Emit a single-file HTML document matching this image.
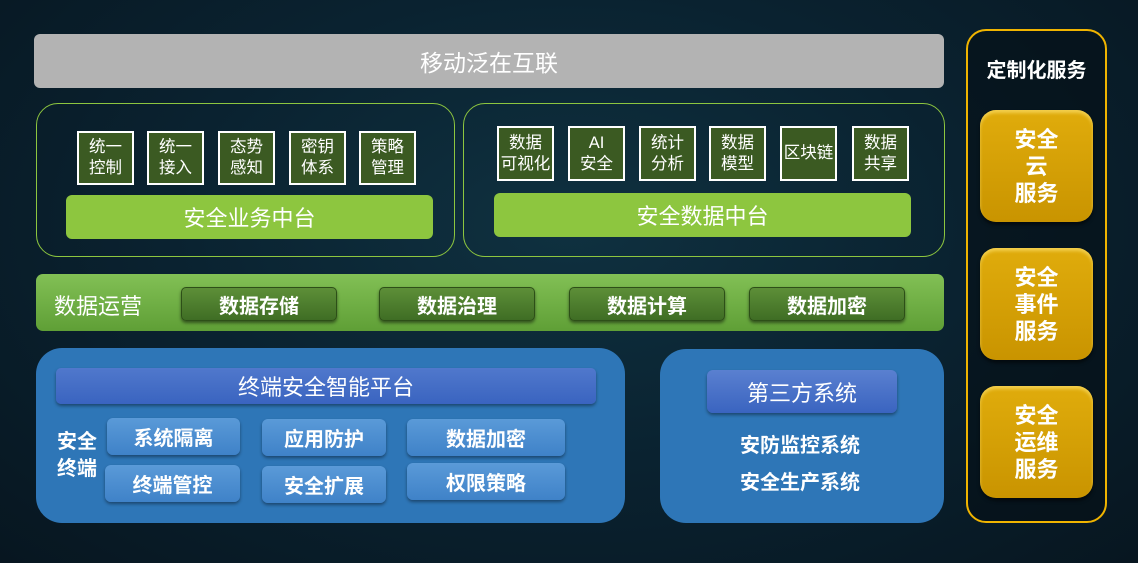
<!DOCTYPE html>
<html><head><meta charset="utf-8"><style>
*{margin:0;padding:0;box-sizing:border-box}
body{width:1138px;height:563px;overflow:hidden;position:relative;background:radial-gradient(ellipse at 50% 40%,#0f3140 0%,#0a2230 50%,#071620 100%);font-family:"Liberation Sans","Noto Sans CJK SC",sans-serif;color:#fff}
.a{position:absolute;display:flex;align-items:center;justify-content:center;text-align:center}
.sm{background:#3b5a22;border:2px solid #fff;font-size:16.5px;line-height:21px;width:57px;height:54px}
.gb{background:#8dc63f;border-radius:6px;font-size:22px}
.db{background:linear-gradient(#5d8f38,#3f6d24);border-radius:5px;font-weight:bold;font-size:20px;box-shadow:0 2px 3px rgba(0,0,0,.5);border:1px solid #2d4f18}
.bb{background:linear-gradient(#5a9ad8,#3f82c8);border-radius:6px;font-weight:bold;font-size:20px;box-shadow:0 2px 3px rgba(0,0,0,.4)}
.gold{background:linear-gradient(#e0ac0c,#c99400);border-radius:16px;font-weight:bold;font-size:22px;line-height:27px;box-shadow:inset 0 3px 3px rgba(255,230,120,.6),0 3px 3px rgba(0,0,0,.5);left:980px;width:113px;height:112px}
</style></head><body>
<div class="a" style="left:34px;top:34px;width:910px;height:54px;background:#b3b3b3;border-radius:6px;font-size:23px">移动泛在互联</div>

<div class="a" style="left:36px;top:103px;width:419px;height:154px;border:1.5px solid #8dc63f;border-radius:22px"></div>
<div class="a sm" style="left:77px;top:131px">统一<br>控制</div>
<div class="a sm" style="left:147px;top:131px">统一<br>接入</div>
<div class="a sm" style="left:218px;top:131px">态势<br>感知</div>
<div class="a sm" style="left:289px;top:131px">密钥<br>体系</div>
<div class="a sm" style="left:359px;top:131px">策略<br>管理</div>
<div class="a gb" style="left:66px;top:195px;width:367px;height:44px">安全业务中台</div>

<div class="a" style="left:463px;top:103px;width:482px;height:154px;border:1.5px solid #8dc63f;border-radius:22px"></div>
<div class="a sm" style="left:497px;top:126px;height:55px">数据<br>可视化</div>
<div class="a sm" style="left:568px;top:126px;height:55px">AI<br>安全</div>
<div class="a sm" style="left:639px;top:126px;height:55px">统计<br>分析</div>
<div class="a sm" style="left:709px;top:126px;height:55px">数据<br>模型</div>
<div class="a sm" style="left:780px;top:126px;height:55px">区块链</div>
<div class="a sm" style="left:852px;top:126px;height:55px">数据<br>共享</div>
<div class="a gb" style="left:494px;top:193px;width:417px;height:44px">安全数据中台</div>

<div class="a" style="left:36px;top:274px;width:908px;height:57px;background:linear-gradient(#82c055,#5f9f36);border-radius:7px"></div>
<div class="a" style="left:50px;top:288px;width:96px;height:34px;font-size:22px">数据运营</div>
<div class="a db" style="left:181px;top:287px;width:156px;height:34px">数据存储</div>
<div class="a db" style="left:379px;top:287px;width:156px;height:34px">数据治理</div>
<div class="a db" style="left:569px;top:287px;width:156px;height:34px">数据计算</div>
<div class="a db" style="left:749px;top:287px;width:156px;height:34px">数据加密</div>

<div class="a" style="left:36px;top:348px;width:589px;height:175px;background:#2e76b7;border-radius:26px"></div>
<div class="a" style="left:56px;top:368px;width:540px;height:36px;background:linear-gradient(#5078cc,#3a64c0);border-radius:5px;font-size:22px;box-shadow:0 2px 3px rgba(0,0,0,.4)">终端安全智能平台</div>
<div class="a" style="left:50px;top:428px;width:54px;height:56px;font-weight:bold;font-size:20px;line-height:27px">安全<br>终端</div>
<div class="a bb" style="left:107px;top:418px;width:133px;height:37px">系统隔离</div>
<div class="a bb" style="left:105px;top:465px;width:135px;height:37px">终端管控</div>
<div class="a bb" style="left:262px;top:419px;width:124px;height:37px">应用防护</div>
<div class="a bb" style="left:262px;top:466px;width:124px;height:37px">安全扩展</div>
<div class="a bb" style="left:407px;top:419px;width:158px;height:37px">数据加密</div>
<div class="a bb" style="left:407px;top:463px;width:158px;height:37px">权限策略</div>

<div class="a" style="left:660px;top:349px;width:284px;height:174px;background:#2e76b7;border-radius:26px"></div>
<div class="a" style="left:707px;top:370px;width:190px;height:43px;background:linear-gradient(#5a80d0,#3a64c0);border-radius:6px;font-size:22px;box-shadow:0 2px 3px rgba(0,0,0,.4)">第三方系统</div>
<div class="a" style="left:660px;top:430px;width:280px;height:26px;font-weight:bold;font-size:20px">安防监控系统</div>
<div class="a" style="left:660px;top:467px;width:280px;height:26px;font-weight:bold;font-size:20px">安全生产系统</div>

<div class="a" style="left:966px;top:29px;width:141px;height:494px;border:2px solid #f0b400;border-radius:20px;background:rgba(5,15,22,.6)"></div>
<div class="a" style="left:966px;top:54px;width:141px;height:28px;font-weight:bold;font-size:20px">定制化服务</div>
<div class="a gold" style="top:110px">安全<br>云<br>服务</div>
<div class="a gold" style="top:248px">安全<br>事件<br>服务</div>
<div class="a gold" style="top:386px">安全<br>运维<br>服务</div>
</body></html>
